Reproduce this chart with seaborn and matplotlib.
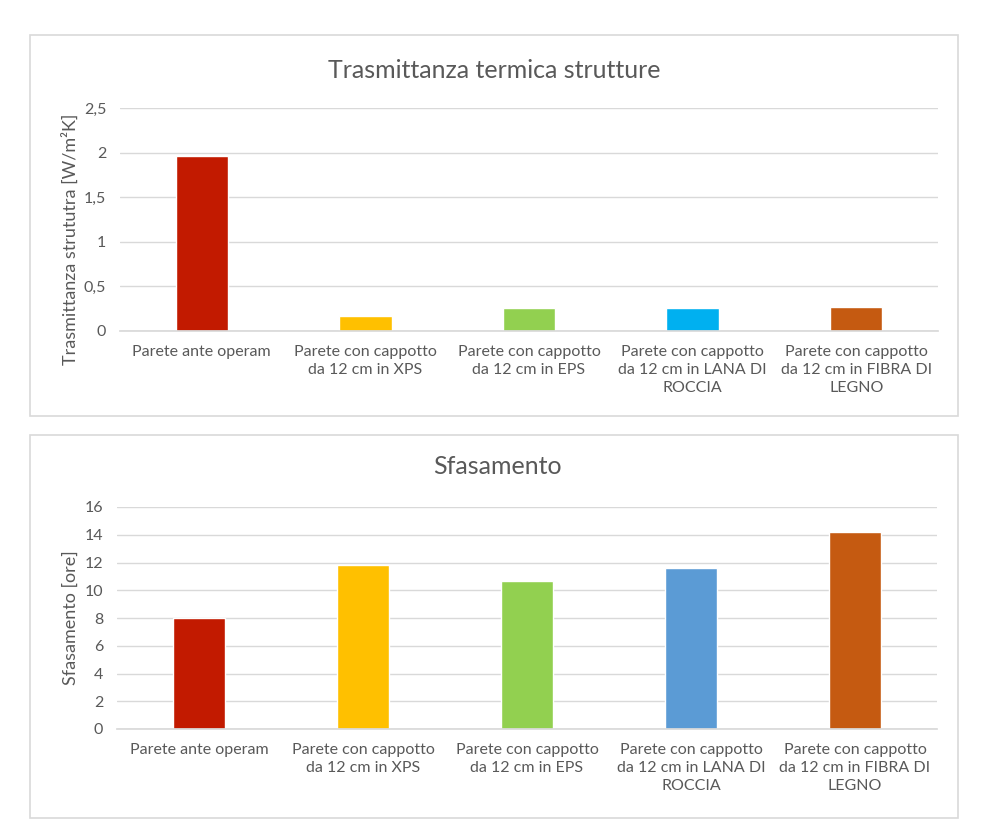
import matplotlib
matplotlib.use("Agg")
import matplotlib.pyplot as plt
import seaborn as sns
import pandas as pd
from matplotlib.patches import Rectangle

categories = [
    "Parete ante operam",
    "Parete con cappotto\nda 12 cm in XPS",
    "Parete con cappotto\nda 12 cm in EPS",
    "Parete con cappotto\nda 12 cm in LANA DI\nROCCIA",
    "Parete con cappotto\nda 12 cm in FIBRA DI\nLEGNO",
]
trasmittanza = [1.96, 0.17, 0.26, 0.26, 0.27]
sfasamento = [8.0, 11.8, 10.7, 11.6, 14.2]
colors_top = ["#C21A00", "#FFC000", "#92D050", "#00B0F0", "#C55A11"]
colors_bottom = ["#C21A00", "#FFC000", "#92D050", "#5B9BD5", "#C55A11"]
yticks_top = [0, 0.5, 1, 1.5, 2, 2.5]
yticklabels_top = ["0", "0,5", "1", "1,5", "2", "2,5"]
yticks_bottom = [0, 2, 4, 6, 8, 10, 12, 14, 16]

sns.set_theme(style="white")
plt.rcParams["font.family"] = ["Lato", "DejaVu Sans"]
txt = "#595959"

W, H = 990, 836
fig = plt.figure(figsize=(W / 100, H / 100), dpi=100)

def px_rect(x0, y0, x1, y1):
    return [x0 / W, 1 - y1 / H, (x1 - x0) / W, (y1 - y0) / H]

# outer boxes
for (x0, y0, x1, y1) in [(30, 35, 958, 416), (30, 435, 958, 818)]:
    fig.patches.append(Rectangle((x0 / W, 1 - y1 / H), (x1 - x0) / W, (y1 - y0) / H,
                                 transform=fig.transFigure, fill=False,
                                 edgecolor="#D9D9D9", linewidth=1.2))

df_top = pd.DataFrame({"cat": categories, "val": trasmittanza})
df_bot = pd.DataFrame({"cat": categories, "val": sfasamento})

ax1 = fig.add_axes(px_rect(120, 108, 938, 331))
sns.barplot(data=df_top, x="cat", y="val", hue="cat", palette=colors_top,
            legend=False, width=0.32, ax=ax1, saturation=1)
ax1.set_ylim(0, 2.5)
ax1.set_yticks(yticks_top)
ax1.set_yticklabels(yticklabels_top)
ax1.set_ylabel("Trasmittanza strututra [W/m²K]", color=txt, fontsize=13)
ax1.yaxis.set_label_coords(-0.050, 0.41)
ax1.set_xlabel("")
fig.text(494 / W, 1 - 70 / H, "Trasmittanza termica strutture", color=txt,
         fontsize=18, ha="center", va="center")

ax2 = fig.add_axes(px_rect(117, 507, 937, 729))
sns.barplot(data=df_bot, x="cat", y="val", hue="cat", palette=colors_bottom,
            legend=False, width=0.32, ax=ax2, saturation=1)
ax2.set_ylim(0, 16)
ax2.set_yticks(yticks_bottom)
ax2.set_ylabel("Sfasamento [ore]", color=txt, fontsize=13)
ax2.yaxis.set_label_coords(-0.047, 0.5)
ax2.set_xlabel("")
fig.text(497 / W, 1 - 467 / H, "Sfasamento", color=txt,
         fontsize=18, ha="center", va="center")

for ax in (ax1, ax2):
    ax.yaxis.grid(True, color="#D9D9D9", linewidth=1)
    ax.set_axisbelow(True)
    for s in ["top", "right", "left"]:
        ax.spines[s].set_visible(False)
    ax.spines["bottom"].set_color("#D9D9D9")
    ax.tick_params(axis="both", colors=txt, labelsize=11.5, length=0)
    ax.tick_params(axis="x", pad=10)
    ax.tick_params(axis="y", pad=10)
    for lab in ax.get_xticklabels():
        lab.set_linespacing(1.35)

fig.savefig("out.png", dpi=100, facecolor="white")
